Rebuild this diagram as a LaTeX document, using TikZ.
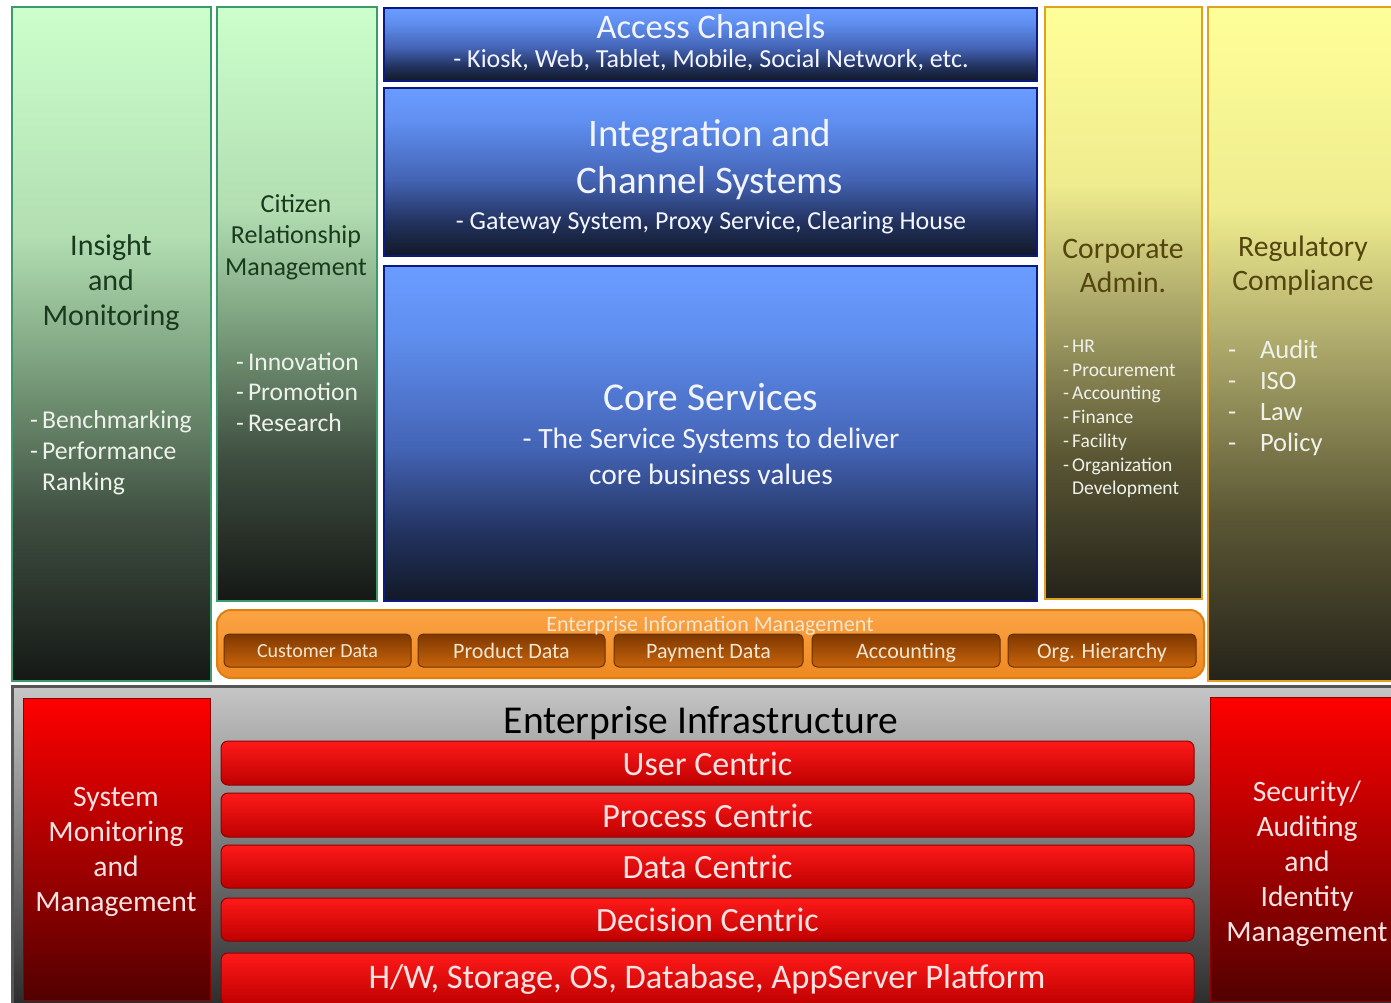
\documentclass[tikz,border=0pt]{standalone}
\usepackage{fontspec}
\setmainfont{Carlito}
\definecolor{g0}{HTML}{CCFFCC}
\definecolor{g1}{HTML}{B2DEB2}
\definecolor{g2}{HTML}{7A9E7C}
\definecolor{g3}{HTML}{3E4E40}
\definecolor{g4}{HTML}{151815}
\definecolor{b0}{HTML}{6A9CFF}
\definecolor{b1}{HTML}{5F8FF0}
\definecolor{b2}{HTML}{4464B6}
\definecolor{b3}{HTML}{22325E}
\definecolor{b4}{HTML}{111826}
\definecolor{y0}{HTML}{FFFF99}
\definecolor{y1}{HTML}{EEEC8E}
\definecolor{y2}{HTML}{ADA96B}
\definecolor{y3}{HTML}{5A5634}
\definecolor{y4}{HTML}{25231A}
\definecolor{grnline}{HTML}{3C9A6A}
\definecolor{navyline}{HTML}{0A1A80}
\definecolor{goldline}{HTML}{E0A020}
\definecolor{grntext}{HTML}{1A3A1E}
\definecolor{oltext}{HTML}{54440E}
\definecolor{lighttext}{HTML}{EEF2EA}
\definecolor{bluetext}{HTML}{F2F5FF}
\definecolor{pinktext}{HTML}{FFE2E2}
\definecolor{orline}{HTML}{E07D10}
\definecolor{ortop}{HTML}{FCA445}
\definecolor{orbot}{HTML}{EE8820}
\definecolor{brtop}{HTML}{7E3800}
\definecolor{brbot}{HTML}{C8640C}
\definecolor{brline}{HTML}{6A3000}
\definecolor{beige}{HTML}{F4E6D0}
\definecolor{graytop}{HTML}{C6C6C6}
\definecolor{graymid}{HTML}{9A9A9A}
\definecolor{graybot}{HTML}{2C2C2C}
\definecolor{grayline}{HTML}{555555}
\definecolor{redmid}{HTML}{CC0000}
\definecolor{redbot}{HTML}{520000}
\definecolor{barbot}{HTML}{BE0000}
\definecolor{barline}{HTML}{900000}
\pgfdeclareverticalshading{grnsh}{100bp}{color(0bp)=(g4); color(25bp)=(g4); color(37bp)=(g3); color(48bp)=(g2); color(58bp)=(g1); color(75bp)=(g0); color(100bp)=(g0)}
\pgfdeclareverticalshading{bluesh}{100bp}{color(0bp)=(b4); color(25bp)=(b4); color(35bp)=(b3); color(48bp)=(b2); color(65bp)=(b1); color(75bp)=(b0); color(100bp)=(b0)}
\pgfdeclareverticalshading{yelsh}{100bp}{color(0bp)=(y4); color(25bp)=(y4); color(37bp)=(y3); color(50bp)=(y2); color(60bp)=(y1); color(75bp)=(y0); color(100bp)=(y0)}
\begin{document}
\begin{tikzpicture}[x=1pt,y=-1pt,
  box/.style={anchor=north west, inner sep=0pt, outer sep=0pt},
  grnbox/.style={box, shading=grnsh, draw=grnline, line width=2.5pt},
  bluebox/.style={box, shading=bluesh, draw=navyline, line width=2.5pt},
  yelbox/.style={box, shading=yelsh, draw=goldline, line width=2.5pt},
  redbox/.style={box, top color=red, middle color=redmid, bottom color=redbot, draw=barline, line width=1pt},
  barbox/.style={box, rounded corners=7pt, top color=red!90!white, bottom color=barbot, draw=barline, line width=1pt, minimum width=973pt},
  subbox/.style={box, rounded corners=5pt, top color=brtop, bottom color=brbot, draw=brline, line width=1pt, minimum height=33pt},
  txt/.style={inner sep=0pt, outer sep=0pt, align=center},
  fs/.style 2 args={font=\fontsize{#1}{#2}\selectfont},
  fso/.style={font=\fontsize{#1}{#1}\selectfont, text height=#1*0.72pt, text depth=0pt},
]
\useasboundingbox (0,0) rectangle (1391,1002);
\fill[white] (0,0) rectangle (1391,1002);

% ---- left green columns
\node[grnbox, minimum width=199pt, minimum height=674pt] (ins) at (12,7) {};
\node[grnbox, minimum width=160pt, minimum height=594pt] (crm) at (217,7) {};
% ---- blue stack
\node[bluebox, minimum width=653pt, minimum height=73pt] (acc) at (384,8) {};
\node[bluebox, minimum width=653pt, minimum height=168pt] (integ) at (384,88) {};
\node[bluebox, minimum width=653pt, minimum height=335pt] (core) at (384,266) {};
% ---- right yellow columns
\node[yelbox, minimum width=157pt, minimum height=592pt] (corp) at (1045,7) {};
\node[yelbox, minimum width=190pt, minimum height=674pt] (reg) at (1208,7) {};
% ---- EIM
\node[box, rounded corners=14pt, top color=ortop, bottom color=orbot, draw=orline, line width=2pt, minimum width=987pt, minimum height=68pt] (eim) at (217,610) {};
\node[subbox, minimum width=187pt] (cust) at (224,634) {};
\node[subbox, minimum width=187pt] (prod) at (418,634) {};
\node[subbox, minimum width=189pt] (pay) at (614,634) {};
\node[subbox, minimum width=188pt] (acct) at (812,634) {};
\node[subbox, minimum width=188pt] (org) at (1008,634) {};
% ---- infrastructure
\node[box, top color=graytop, middle color=graymid, bottom color=graybot, draw=grayline, line width=3pt, minimum width=1390pt, minimum height=320pt] (infra) at (12,686) {};
\node[redbox, minimum width=187pt, minimum height=302pt] (sys) at (23,698) {};
\node[redbox, minimum width=190pt, minimum height=304pt] (sec) at (1210,697) {};
\node[barbox, minimum height=44pt] (user) at (221,741) {};
\node[barbox, minimum height=44pt] (proc) at (221,793) {};
\node[barbox, minimum height=43pt] (data) at (221,845) {};
\node[barbox, minimum height=43pt] (dec) at (221,898) {};
\node[barbox, minimum height=52pt] (hw) at (221,953) {};

% ---- texts: blue stack
\node[txt, fso=34.5, text=bluetext] (tacc) at (711,26) {Access Channels};
\node[txt, fso=26, text=bluetext] (tacc2) at (711,58) {- Kiosk, Web, Tablet, Mobile, Social Network, etc.};
\node[txt, fs={39}{47}, text=bluetext] (tint) at (710,160) {Integration and\\Channel Systems};
\node[txt, fso=26, text=bluetext] (tint2) at (711,220) {- Gateway System, Proxy Service, Clearing House};
\node[txt, fso=39.5, text=bluetext] (tcore) at (711,396) {Core Services};
\node[txt, fs={29.5}{36}, text=bluetext] (tcore2) at (711,456) {- The Service Systems to deliver\\core business values};

% ---- green texts
\node[txt, fs={30}{35}, text=grntext] (tins) at (111,283) {Insight\\and\\Monitoring};
\node[txt, fs={25.7}{31}, text=lighttext, align=left, anchor=west] (tins2) at (30,453) {-\,Benchmarking\\-\,Performance\\\hphantom{-\,}Ranking};
\node[txt, fs={26}{31.5}, text=grntext] (tcrm) at (296,237) {Citizen\\Relationship\\Management};
\node[txt, fs={25.5}{30.5}, text=lighttext, align=left, anchor=west] (tcrm2) at (236,392) {-\,Innovation\\-\,Promotion\\-\,Research};

% ---- yellow texts
\node[txt, fs={29.7}{34}, text=oltext] (tcorp) at (1123,266) {Corporate\\Admin.};
\node[txt, fs={19.5}{23.7}, text=lighttext, align=left, anchor=west] (tcorp2) at (1063,419) {-\,HR\\-\,Procurement\\-\,Accounting\\-\,Finance\\-\,Facility\\-\,Organization\\\hphantom{-\,}Development};
\node[txt, fs={29.6}{34}, text=oltext] (treg) at (1303,266) {Regulatory\\Compliance};
\node[txt, fs={26.5}{31}, text=lighttext, align=left, anchor=west] (treg2) at (1228,398) {\makebox[32pt][l]{-}Audit\\\makebox[32pt][l]{-}ISO\\\makebox[32pt][l]{-}Law\\\makebox[32pt][l]{-}Policy};

% ---- EIM texts
\node[txt, fso=22, text=beige] (teim) at (710,624) {Enterprise Information Management};
\node[txt, fso=20, text=beige] at (cust.center) (tcust) {Customer Data};
\node[txt, fso=22, text=beige] at (prod.center) (tprod) {Product Data};
\node[txt, fso=22, text=beige] at (pay.center) (tpay) {Payment Data};
\node[txt, fso=22, text=beige] at (acct.center) (tacct) {Accounting};
\node[txt, fso=22, text=beige] at (org.center) (torg) {Org. Hierarchy};

% ---- infrastructure texts
\node[txt, fso=39.5, text=black] (tinfra) at (701,719) {Enterprise Infrastructure};
\node[txt, fso=34, text=pinktext] at (user.center) (tuser) {User Centric};
\node[txt, fso=34, text=pinktext] at (proc.center) (tproc) {Process Centric};
\node[txt, fso=34, text=pinktext] at (data.center) (tdata) {Data Centric};
\node[txt, fso=34, text=pinktext] at (dec.center) (tdec) {Decision Centric};
\node[txt, fso=34.5, text=pinktext] (thw) at (707,976) {H/W, Storage, OS, Database, AppServer Platform};
\node[txt, fs={29.6}{35}, text=pinktext] (tsys) at (116,852) {System\\Monitoring\\and\\Management};
\node[txt, fs={29.6}{35}, text=pinktext] (tsec) at (1307,864) {Security/\\Auditing\\and\\Identity\\Management};
\end{tikzpicture}
\end{document}
